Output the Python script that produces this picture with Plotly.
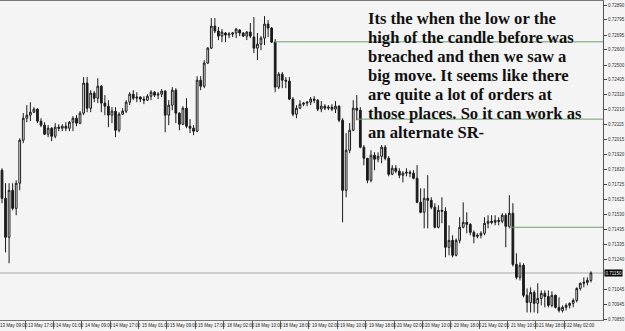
import plotly.graph_objects as go

# ---- data (hourly candles) ----
opens = [0.71817,0.71635,0.71382,0.71687,0.71570,0.71733,0.72012,0.72155,0.72175,0.72194,
         0.72214,0.72136,0.72110,0.72051,0.72090,0.72038,0.72097,0.72090,0.72103,0.72090,
         0.72129,0.72155,0.72123,0.72188,0.72383,0.72220,0.72318,0.72285,0.72363,0.72253,
         0.72233,0.72175,0.72201,0.72077,0.72181,0.72201,0.72259,0.72311,0.72285,0.72292,
         0.72279,0.72272,0.72298,0.72324,0.72305,
         0.72311,0.72331,0.72175,0.72240,0.72337,0.72188,0.72116,0.72220,0.72103,0.72090,
         0.72071,0.72402,0.72363,0.72513,0.72610,0.72753,0.72721,0.72688,0.72708,0.72695,
         0.72701,0.72708,0.72727,0.72708,0.72688,0.72714,0.72682,0.72610,0.72636,0.72675,
         0.72766,0.72740,0.72649,0.72357,0.72441,0.72402,0.72396,0.72279,0.72181,0.72220,
         0.72246,0.72253,0.72259,0.72279,0.72272,
         0.72214,0.72233,0.72220,0.72227,0.72214,0.72233,0.72142,0.71687,0.71947,0.72077,
         0.72220,0.72207,0.71967,0.71895,0.71752,0.71915,0.71889,0.71908,0.71967,0.71895,
         0.71791,0.71830,0.71811,0.71785,0.71798,0.71804,0.71798,0.71765,0.71609,0.71544,
         0.71635,0.71622,0.71577,0.71447,0.71557,0.71551,0.71317,0.71362,0.71265,0.71362,
         0.71447,0.71479,0.71466,0.71414,0.71388,
         0.71395,0.71408,0.71473,0.71486,0.71479,0.71492,0.71486,0.71525,0.71453,0.71538,
         0.71206,0.71122,0.71200,0.71005,0.70959,0.71024,0.70953,0.70985,0.71018,0.70998,
         0.70940,0.71005,0.70927,0.70907,0.70927,0.70940,0.70953,0.70972,0.71050,0.71083,
         0.71089,0.71102]
highs = [0.71830,0.71733,0.71733,0.71733,0.71752,0.72025,0.72188,0.72240,0.72259,0.72227,
         0.72220,0.72155,0.72129,0.72110,0.72097,0.72123,0.72116,0.72116,0.72129,0.72136,
         0.72168,0.72175,0.72201,0.72422,0.72422,0.72337,0.72331,0.72415,0.72370,0.72305,
         0.72272,0.72227,0.72227,0.72194,0.72220,0.72272,0.72324,0.72337,0.72324,0.72298,
         0.72298,0.72311,0.72337,0.72331,0.72324,
         0.72344,0.72337,0.72272,0.72357,0.72350,0.72194,0.72233,0.72285,0.72149,0.72110,
         0.72428,0.72428,0.72532,0.72617,0.72805,0.72805,0.72747,0.72734,0.72714,0.72714,
         0.72714,0.72740,0.72734,0.72714,0.72721,0.72773,0.72812,0.72708,0.72688,0.72818,
         0.72792,0.72747,0.72669,0.72454,0.72454,0.72422,0.72422,0.72292,0.72240,0.72272,
         0.72259,0.72266,0.72292,0.72298,0.72279,
         0.72266,0.72246,0.72240,0.72246,0.72266,0.72240,0.72155,0.72058,0.72123,0.72272,
         0.72305,0.72227,0.71980,0.71895,0.71947,0.71934,0.71934,0.71980,0.71980,0.71908,
         0.71850,0.71850,0.71830,0.71811,0.71830,0.71817,0.71817,0.71850,0.71700,0.71700,
         0.71785,0.71642,0.71603,0.71590,0.71642,0.71577,0.71460,0.71395,0.71375,0.71512,
         0.71609,0.71544,0.71473,0.71427,0.71408,
         0.71421,0.71512,0.71525,0.71525,0.71525,0.71512,0.71538,0.71538,0.71655,0.71603,
         0.71278,0.71219,0.71213,0.71050,0.71057,0.71037,0.71083,0.71037,0.71037,0.71037,
         0.71031,0.71011,0.70992,0.70940,0.70953,0.70959,0.70985,0.71057,0.71089,0.71122,
         0.71122,0.71161]
lows = [0.71603,0.71284,0.71213,0.71557,0.71525,0.71687,0.71993,0.72129,0.72136,0.72188,
        0.72123,0.72097,0.72045,0.72032,0.72006,0.72025,0.72071,0.72071,0.72071,0.72071,
        0.72071,0.72103,0.72116,0.72175,0.72194,0.72194,0.72259,0.72253,0.72194,0.72175,
        0.72097,0.72123,0.72032,0.72064,0.72175,0.72188,0.72240,0.72272,0.72259,0.72259,
        0.72246,0.72266,0.72272,0.72292,0.72279,
        0.72292,0.72064,0.72110,0.72207,0.72123,0.72077,0.72110,0.72090,0.72058,0.72045,
        0.72064,0.72337,0.72350,0.72506,0.72604,0.72708,0.72662,0.72649,0.72649,0.72675,
        0.72682,0.72675,0.72688,0.72682,0.72662,0.72675,0.72578,0.72532,0.72597,0.72630,
        0.72682,0.72643,0.72324,0.72344,0.72350,0.72350,0.72272,0.72168,0.72155,0.72214,
        0.72233,0.72233,0.72240,0.72253,0.72201,
        0.72194,0.72207,0.72207,0.72201,0.72188,0.72129,0.71479,0.71642,0.71928,0.72071,
        0.72142,0.71960,0.71850,0.71733,0.71739,0.71817,0.71869,0.71863,0.71882,0.71778,
        0.71785,0.71798,0.71765,0.71739,0.71778,0.71772,0.71759,0.71603,0.71538,0.71440,
        0.71440,0.71564,0.71440,0.71440,0.71473,0.71252,0.71265,0.71252,0.71258,0.71343,
        0.71440,0.71408,0.71395,0.71343,0.71375,
        0.71375,0.71395,0.71440,0.71466,0.71460,0.71460,0.71473,0.71317,0.71440,0.71193,
        0.71109,0.71102,0.70992,0.70894,0.70894,0.70894,0.70888,0.70940,0.70927,0.70927,
        0.70927,0.70920,0.70894,0.70894,0.70907,0.70920,0.70927,0.70959,0.71037,0.71057,
        0.71070,0.71089]
closes = [0.71635,0.71382,0.71687,0.71570,0.71733,0.72012,0.72155,0.72175,0.72194,0.72214,
          0.72136,0.72110,0.72051,0.72090,0.72038,0.72097,0.72090,0.72103,0.72090,0.72129,
          0.72155,0.72123,0.72188,0.72383,0.72220,0.72318,0.72285,0.72363,0.72253,0.72233,
          0.72175,0.72201,0.72077,0.72181,0.72201,0.72259,0.72311,0.72285,0.72292,0.72279,
          0.72272,0.72298,0.72324,0.72305,0.72311,
          0.72331,0.72175,0.72240,0.72337,0.72188,0.72116,0.72220,0.72103,0.72090,0.72071,
          0.72402,0.72363,0.72513,0.72610,0.72753,0.72721,0.72688,0.72714,0.72695,0.72701,
          0.72708,0.72734,0.72708,0.72688,0.72714,0.72688,0.72610,0.72636,0.72675,0.72766,
          0.72740,0.72649,0.72357,0.72441,0.72402,0.72396,0.72279,0.72181,0.72220,0.72246,
          0.72253,0.72259,0.72279,0.72272,0.72214,
          0.72233,0.72220,0.72227,0.72214,0.72233,0.72142,0.71687,0.71947,0.72077,0.72220,
          0.72207,0.71967,0.71895,0.71752,0.71915,0.71889,0.71908,0.71967,0.71895,0.71791,
          0.71830,0.71811,0.71785,0.71798,0.71804,0.71798,0.71765,0.71609,0.71544,0.71635,
          0.71622,0.71577,0.71447,0.71557,0.71551,0.71317,0.71362,0.71265,0.71362,0.71447,
          0.71479,0.71466,0.71414,0.71388,0.71395,
          0.71408,0.71473,0.71486,0.71479,0.71492,0.71486,0.71525,0.71453,0.71538,0.71206,
          0.71122,0.71200,0.71005,0.70959,0.71024,0.70953,0.70985,0.71018,0.70998,0.70940,
          0.71005,0.70927,0.70907,0.70927,0.70940,0.70953,0.70972,0.71050,0.71083,0.71089,
          0.71102,0.71150]

time_labels = ["13 May 09:00", "13 May 17:00", "14 May 01:00", "14 May 09:00", "14 May 17:00",
               "15 May 01:00", "15 May 09:00", "15 May 17:00", "18 May 02:00", "18 May 10:00",
               "18 May 18:00", "19 May 02:00", "19 May 10:00", "19 May 18:00", "20 May 02:00",
               "20 May 10:00", "20 May 18:00", "21 May 02:00", "21 May 10:00", "21 May 18:00",
               "22 May 02:00"]
label_bars = [-1 + 8 * k for k in range(len(time_labels))]

price_ticks = [0.72890, 0.72795, 0.72695, 0.72600, 0.72500, 0.72405, 0.72310, 0.72210,
               0.72115, 0.72015, 0.71920, 0.71820, 0.71725, 0.71625, 0.71530, 0.71435,
               0.71335, 0.71240, 0.71045, 0.70945, 0.70850]

level_prices = [0.72651, 0.72149, 0.71447]
level_start_bars = [77, 100, 143]

note_lines = ["Its the when the low or the",
              "high of the candle before was",
              "breached and then we saw a",
              "big move. It seems like there",
              "are quite a lot of orders at",
              "those places. So it can work as",
              "an alternate SR-"]

# ---- figure ----
W, H = 625, 331
ML, MR, MT, MB = 0, 19, 1, 11
x_range = [-0.56, 169.4]
y_range = [0.70845, 0.72916]
bg = "#f4f4f4"


def xpaper(v):
    return (v - x_range[0]) / (x_range[1] - x_range[0])


bars = list(range(len(opens)))
fig = go.Figure(go.Candlestick(
    x=bars, open=opens, high=highs, low=lows, close=closes,
    increasing=dict(line=dict(color="#1a1a1a", width=1), fillcolor="#ffffff"),
    decreasing=dict(line=dict(color="#1a1a1a", width=1), fillcolor="#1a1a1a"),
    whiskerwidth=0, hoverinfo="skip", showlegend=False,
))

shapes = []
shapes.append(dict(type="line", xref="paper", x0=0, x1=1, yref="y",
                   y0=closes[-1], y1=closes[-1], line=dict(color="#a8a8a8", width=1), layer="below"))
for p, b in zip(level_prices, level_start_bars):
    shapes.append(dict(type="line", xref="x", x0=b, x1=x_range[1], yref="y", y0=p, y1=p,
                       line=dict(color="#6f9f6f", width=1), layer="above"))
# tick mark for the partially hidden first label
shapes.append(dict(type="line", xref="paper", x0=xpaper(label_bars[0] - 0.5), x1=xpaper(label_bars[0] - 0.5),
                   yref="paper", y0=0, y1=0, line=dict(color="#666", width=1)))

annotations = []
for lab, b in zip(time_labels, label_bars):
    annotations.append(dict(x=xpaper(b - 0.5), xref="paper", y=0, yref="paper", text=lab, showarrow=False,
                            xanchor="left", yanchor="top", xshift=1, yshift=-1,
                            font=dict(family="Liberation Sans", size=4.5, color="#222")))

plot_h = H - MT - MB
plot_w = W - ML - MR
for k, line in enumerate(note_lines):
    ypx = 18.5 + 19.05 * k
    annotations.append(dict(x=368 / plot_w, xref="paper", y=(plot_h + MT - ypx) / plot_h, yref="paper",
                            text=line, showarrow=False, xanchor="left", yanchor="middle",
                            font=dict(family="Liberation Serif", size=16.6, color="#111", weight="bold")))

annotations.append(dict(x=1, xref="paper", y=closes[-1], yref="y", text=f"{closes[-1]:.5f}",
                        showarrow=False, xanchor="left", yanchor="middle", xshift=1,
                        bgcolor="#000000", borderpad=0.5,
                        font=dict(family="Liberation Sans", size=4.5, color="#ffffff")))

fig.update_layout(
    width=W, height=H, margin=dict(l=ML, r=MR, t=MT, b=MB, pad=0),
    paper_bgcolor=bg, plot_bgcolor=bg,
    shapes=shapes, annotations=annotations, showlegend=False,
    xaxis=dict(range=x_range, rangeslider=dict(visible=False), showgrid=False, zeroline=False,
               tickvals=[b - 0.5 for b in label_bars], ticks="outside", ticklen=8, tickcolor="#666",
               showticklabels=False, showline=True, linecolor="#777", linewidth=1, mirror=True),
    yaxis=dict(range=y_range, side="right", showgrid=False, zeroline=False,
               tickvals=price_ticks, ticktext=[f"{v:.5f}" for v in price_ticks],
               ticks="outside", ticklen=3, tickcolor="#444",
               tickfont=dict(family="Liberation Sans", size=4.5, color="#333"),
               showline=True, linecolor="#555", linewidth=1),
)

fig.write_html("out.html")
